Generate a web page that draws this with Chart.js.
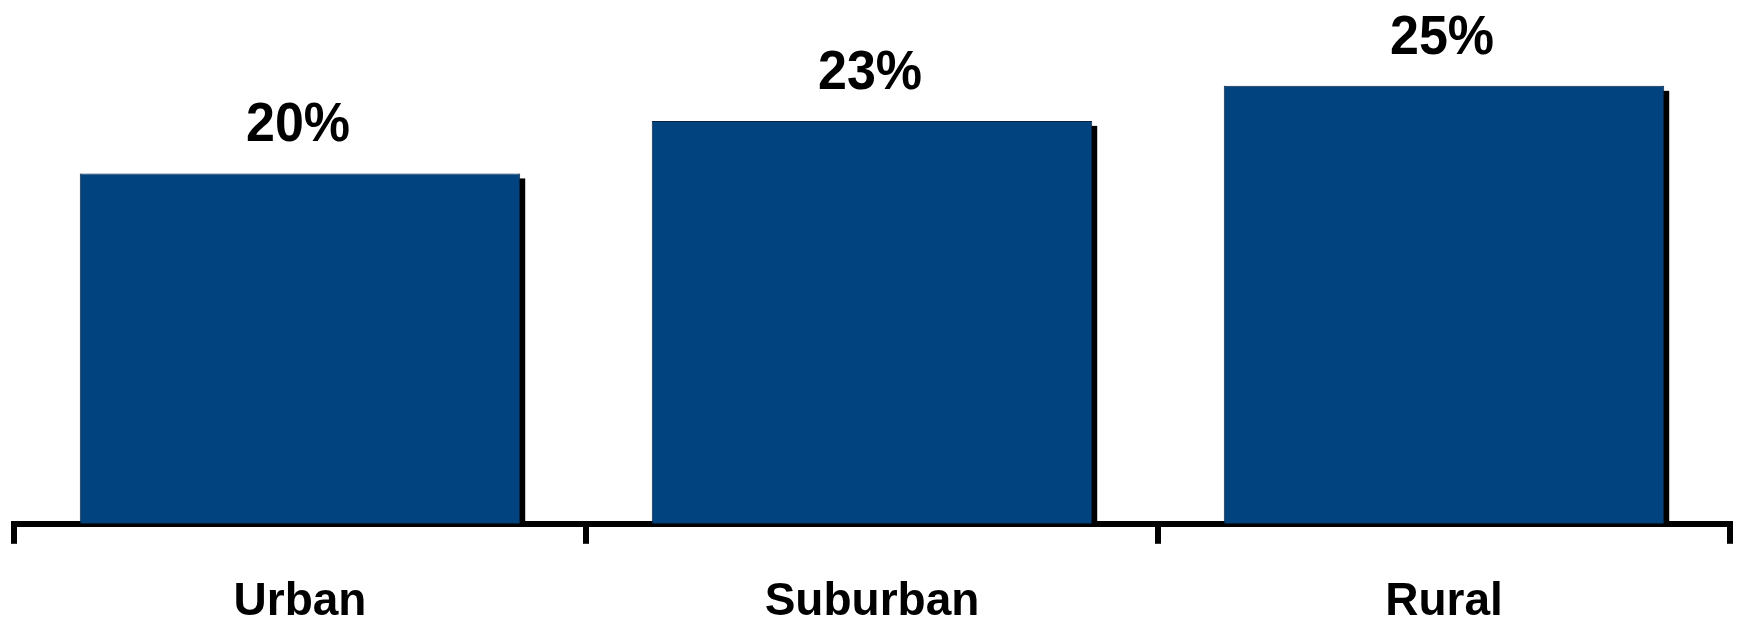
<!DOCTYPE html>
<html>
<head>
<meta charset="utf-8">
<script src="https://cdn.jsdelivr.net/npm/chart.js@4/dist/chart.umd.min.js"></script>
<style>
  html, body { margin: 0; background: #ffffff; overflow: hidden; }
  #chart { display: block; }
</style>
</head>
<body>
<!-- el canvas es mas alto que la ventana: asi el eje queda abajo como en el original -->
<canvas id="chart" width="1737" height="661"></canvas>
<script>
// datos del grafico
const categories = ['Urban', 'Suburban', 'Rural'];
const shareValues = [20, 23, 25];
const valueLabels = ['20%', '23%', '25%'];

const BAR_COLOR = '#00437f';
const BAR_BORDER = '#0b2340';
const SHADOW_OFFSET = 5;
const FONT = '"Liberation Sans", Arial, Helvetica, sans-serif';

// sombra negra desplazada detras de cada barra
const shadowPlugin = {
  id: 'barShadow',
  beforeDatasetsDraw(chart) {
    const ctx = chart.ctx;
    ctx.save();
    ctx.fillStyle = '#000000';
    chart.getDatasetMeta(0).data.forEach(bar => {
      const left = bar.x - bar.width / 2 + SHADOW_OFFSET;
      const top = bar.y + SHADOW_OFFSET;
      ctx.fillRect(left, top, bar.width, bar.base - top);
    });
    ctx.restore();
  }
};

// etiquetas de valor encima de las barras (un poco estiradas en vertical como el original)
const valueLabelPlugin = {
  id: 'valueLabels',
  afterDatasetsDraw(chart) {
    const ctx = chart.ctx;
    chart.getDatasetMeta(0).data.forEach((bar, i) => {
      ctx.save();
      ctx.translate(bar.x - 2, bar.y - 32);
      ctx.scale(1, 1.05);
      ctx.font = 'bold 52px ' + FONT;
      ctx.fillStyle = '#000000';
      ctx.textAlign = 'center';
      ctx.textBaseline = 'alphabetic';
      ctx.fillText(valueLabels[i], 0, 0);
      ctx.restore();
    });
  }
};

const config = {
  type: 'bar',
  data: {
    labels: categories,
    datasets: [{
      data: shareValues,
      backgroundColor: BAR_COLOR,
      borderColor: BAR_BORDER,
      borderWidth: 1,
      borderSkipped: 'bottom',
      barPercentage: 0.77,
      categoryPercentage: 1.0
    }]
  },
  options: {
    responsive: false,
    animation: false,
    layout: {
      padding: { left: 14, right: 7, top: 0, bottom: 0 }
    },
    plugins: {
      legend: { display: false },
      tooltip: { enabled: false }
    },
    scales: {
      x: {
        z: 1,
        grid: {
          offset: true,
          drawOnChartArea: false,
          drawTicks: true,
          tickLength: 20,
          lineWidth: 6,
          color: '#000000'
        },
        border: { display: true, width: 6, color: '#000000' },
        ticks: {
          padding: 31,
          color: '#000000',
          font: { family: FONT, size: 46, weight: 'bold' }
        }
      },
      y: {
        display: false,
        min: 0,
        max: 29.9
      }
    }
  },
  plugins: [shadowPlugin, valueLabelPlugin]
};

new Chart(document.getElementById('chart').getContext('2d'), config);
</script>
</body>
</html>
